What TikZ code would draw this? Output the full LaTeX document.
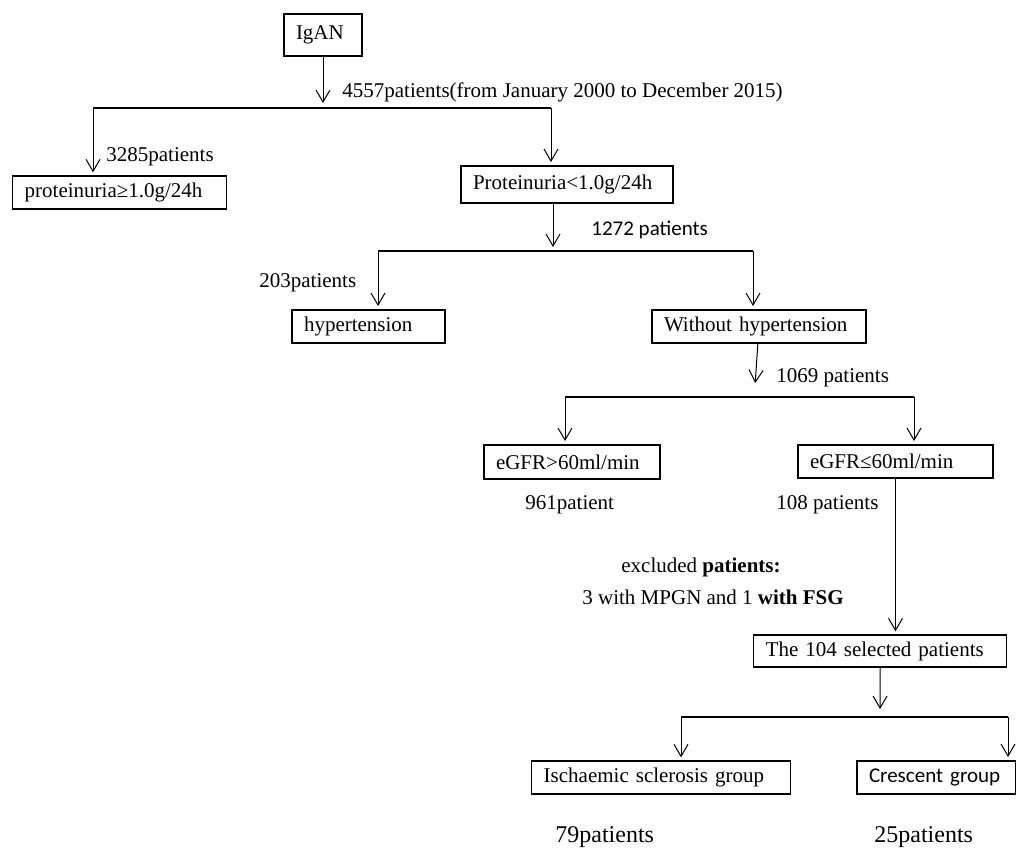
\documentclass[tikz,border=0pt]{standalone}
\usepackage{fontspec}
\setmainfont{Liberation Serif}
\newfontfamily\calibri{Carlito}
\usepackage{tikz}
\usetikzlibrary{arrows.meta}

\begin{document}
\begin{tikzpicture}[x=0.5pt, y=-0.5pt,
        font=\fontsize{10.5pt}{12pt}\selectfont,
        box/.style={draw=black, line width=1pt, anchor=west, align=left, inner xsep=6pt, inner ysep=0pt},
        thinbox/.style={box, line width=0.7pt},
        lbl/.style={anchor=base west, inner sep=0pt},
        flow/.style={line width=0.5pt, shorten >=1.5pt, -{Straight Barb[length=6pt, width=7pt]}},
        branch/.style={line width=0.9pt}]
        \useasboundingbox (0,0) rectangle (1016,848);

        \node[box, text width=27pt, minimum height=21pt] (igan) at (283,35) {IgAN};
        \node[thinbox, text width=95pt, minimum height=16.5pt] (pge) at (12,192.5) {proteinuria≥1.0g/24h};
        \node[box, text width=94pt, minimum height=18.5pt] (plt) at (460,184.5) {Proteinuria<1.0g/24h};
        \node[box, text width=64.5pt, minimum height=16.5pt] (hyp) at (291,326.5) {hypertension};
        \node[box, text width=95pt, minimum height=16.5pt] (nohyp) at (651,326.5) {Without hypertension};
        \node[box, text width=76pt, minimum height=17pt] (egfrhi) at (483,462) {eGFR>60ml/min};
        \node[box, text width=85.5pt, minimum height=16.5pt] (egfrlo) at (797,461.5) {eGFR≤60ml/min};
        \node[thinbox, text width=114.5pt, minimum height=16pt] (sel) at (753,651) {The 104 selected patients};
        \node[thinbox, text width=117.5pt, minimum height=16.5pt] (isch) at (531,777.5) {Ischaemic sclerosis group};
        \node[box, text width=67.5pt, minimum height=16.5pt] (cres) at (856,777.5) {\calibri Crescent group};

        \node[lbl] (n4557) at (342,97) {4557patients(from January 2000 to December 2015)};
        \node[lbl] (n3285) at (106,161) {3285patients};
        \node[lbl] (n1272) at (591,235) {\calibri 1272 patients};
        \node[lbl] (n203) at (259,287) {203patients};
        \node[lbl] (n1069) at (776,382) {1069 patients};
        \node[lbl] (n961) at (525,509) {961patient};
        \node[lbl] (n108) at (776,509) {108 patients};
        \node[lbl] (excl1) at (621,572) {excluded \textbf{patients:}};
        \node[lbl] (excl2) at (582,604) {3 with MPGN and 1 \textbf{with FSG}};
        \node[lbl, font=\fontsize{12pt}{14pt}\selectfont] (n79) at (555,842) {79patients};
        \node[lbl, font=\fontsize{12pt}{14pt}\selectfont] (n25) at (874,842) {25patients};

        % first split
        \coordinate (j1) at (323,106);
        \coordinate (b1l) at (93,108);
        \coordinate (b1r) at (551,108);
        \path [flow] (igan) edge (j1);
        \path [branch] (b1l) edge (b1r);
        \path [flow] (b1l) edge (b1l |- pge.north);
        \path [flow] (b1r) edge (b1r |- plt.north);

        % second split
        \coordinate (j2) at (553,250);
        \coordinate (b2l) at (378,251);
        \coordinate (b2r) at (753,251);
        \path [flow] (j2 |- plt.south) edge (j2);
        \path [branch] (b2l) edge (b2r);
        \path [flow] (b2l) edge (b2l |- hyp.north);
        \path [flow] (b2r) edge (b2r |- nohyp.north);

        % third split
        \coordinate (j3) at (755,386);
        \coordinate (b3l) at (565,397);
        \coordinate (b3r) at (914,397);
        \path [flow] (nohyp) edge (j3);
        \path [branch] (b3l) edge (b3r);
        \path [flow] (b3l) edge (b3l |- egfrhi.north);
        \path [flow] (b3r) edge (b3r |- egfrlo.north);

        \path [flow] (egfrlo.south) edge (egfrlo.south |- sel.north);

        % last split
        \coordinate (j4) at (880,712);
        \coordinate (b4l) at (681,717);
        \coordinate (b4r) at (1008,717);
        \path [flow] (sel) edge (j4);
        \path [branch] (b4l) edge (b4r);
        \path [flow] (b4l) edge (b4l |- isch.north);
        \path [flow] (b4r) edge (b4r |- cres.north);
    \end{tikzpicture}
\end{document}
